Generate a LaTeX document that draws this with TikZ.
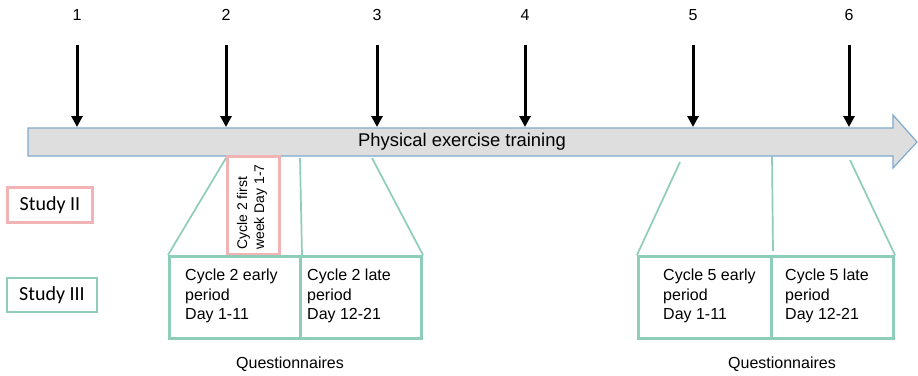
\documentclass[tikz,border=0pt]{standalone}
\usepackage{fontspec}
\setmainfont{Liberation Sans}
\newfontfamily\calib{Carlito}
\usetikzlibrary{arrows.meta}
\definecolor{pinkc}{HTML}{F2B3B5}
\definecolor{greenc}{HTML}{8ECDB7}
\definecolor{bodyfill}{HTML}{DEDEDE}
\definecolor{bodyline}{HTML}{7FAAD0}
\begin{document}
\begin{tikzpicture}[x=1pt,y=-1pt,
  num/.style={font=\fontsize{16}{19}\selectfont, inner sep=0pt},
  tickarrow/.style={line width=3pt, -{Triangle[length=11pt,width=11pt]}},
  gbox/.style={draw=greenc, line width=3pt, minimum width=#1, minimum height=82pt, anchor=north west, inner sep=0pt},
  pbox/.style={draw=pinkc, line width=2.5pt, inner sep=0pt},
  txt/.style={font=\fontsize{16}{19.5}\selectfont, align=left, anchor=west, inner sep=0pt},
  link/.style={draw=greenc, line width=1.7pt},
  study/.style={font=\calib\fontsize{20}{24}\selectfont, inner sep=0pt}
]
\useasboundingbox (0,0) rectangle (918,375);
\fill[white] (0,0) rectangle (918,375);

% main arrow
\draw[bodyline, fill=bodyfill, line width=1.2pt, line join=miter]
  (28,128) -- (893,128) -- (893,115) -- (917,142) -- (893,168) -- (893,156) -- (28,156) -- cycle;
\node[font=\fontsize{18.4}{22}\selectfont, inner sep=0pt] (bar) at (462,142) {Physical exercise training};

% numbered time points
\foreach \i/\x in {1/77,2/226,3/377,4/525,5/693,6/849}{
  \node[num] (n\i) at (\x,15) {\i};
  \coordinate (t\i) at (\x,127);
  \draw[tickarrow] (\x,45) -- (t\i);
}

% study labels
\node[study, pbox, minimum width=85pt, minimum height=35pt] (s2) at (50,205) {Study II};
\node[study, draw=greenc, line width=2.5pt, minimum width=90pt, minimum height=34pt] (s3) at (52,295) {Study III};

% pink first week box
\node[pbox, minimum width=52pt, minimum height=98pt, anchor=north west] (wk) at (226,155) {};
\node[rotate=90, align=left, font=\fontsize{14}{17}\selectfont, inner sep=0pt] (wkt) at (252,207) {Cycle 2 first\\week Day 1-7};

% green boxes
\node[gbox=131pt] (c2e) at (168,255) {};
\node[gbox=121pt] (c2l) at (299,255) {};
\node[gbox=133pt] (c5e) at (637,255) {};
\node[gbox=122pt] (c5l) at (770,255) {};

\node[txt] (c2et) at (185,296) {Cycle 2 early\\period\\Day 1-11};
\node[txt] (c2lt) at (307,296) {Cycle 2 late\\period\\Day 12-21};
\node[txt] (c5et) at (663,296) {Cycle 5 early\\period\\Day 1-11};
\node[txt] (c5lt) at (785,296) {Cycle 5 late\\period\\Day 12-21};

% connectors
\coordinate (a1) at (226,158);
\coordinate (a2) at (300,158);
\coordinate (a3) at (372,158);
\coordinate (b1) at (680,162);
\coordinate (b2) at (772,156);
\coordinate (b3) at (850,160);
\draw[link] (a1) -- (c2e.north west);
\draw[link] (a2) -- (c2e.north east);
\draw[link] (a3) -- (c2l.north east);
\draw[link] (b1) -- (c5e.north west);
\draw[link] (b2) -- ([yshift=4pt]c5e.north east);
\draw[link] (b3) -- (c5l.north east);

% questionnaires
\node[font=\fontsize{16}{19}\selectfont, inner sep=0pt] (q1) at (290,364) {Questionnaires};
\node[font=\fontsize{16}{19}\selectfont, inner sep=0pt] (q2) at (782,364) {Questionnaires};
\end{tikzpicture}
\end{document}
